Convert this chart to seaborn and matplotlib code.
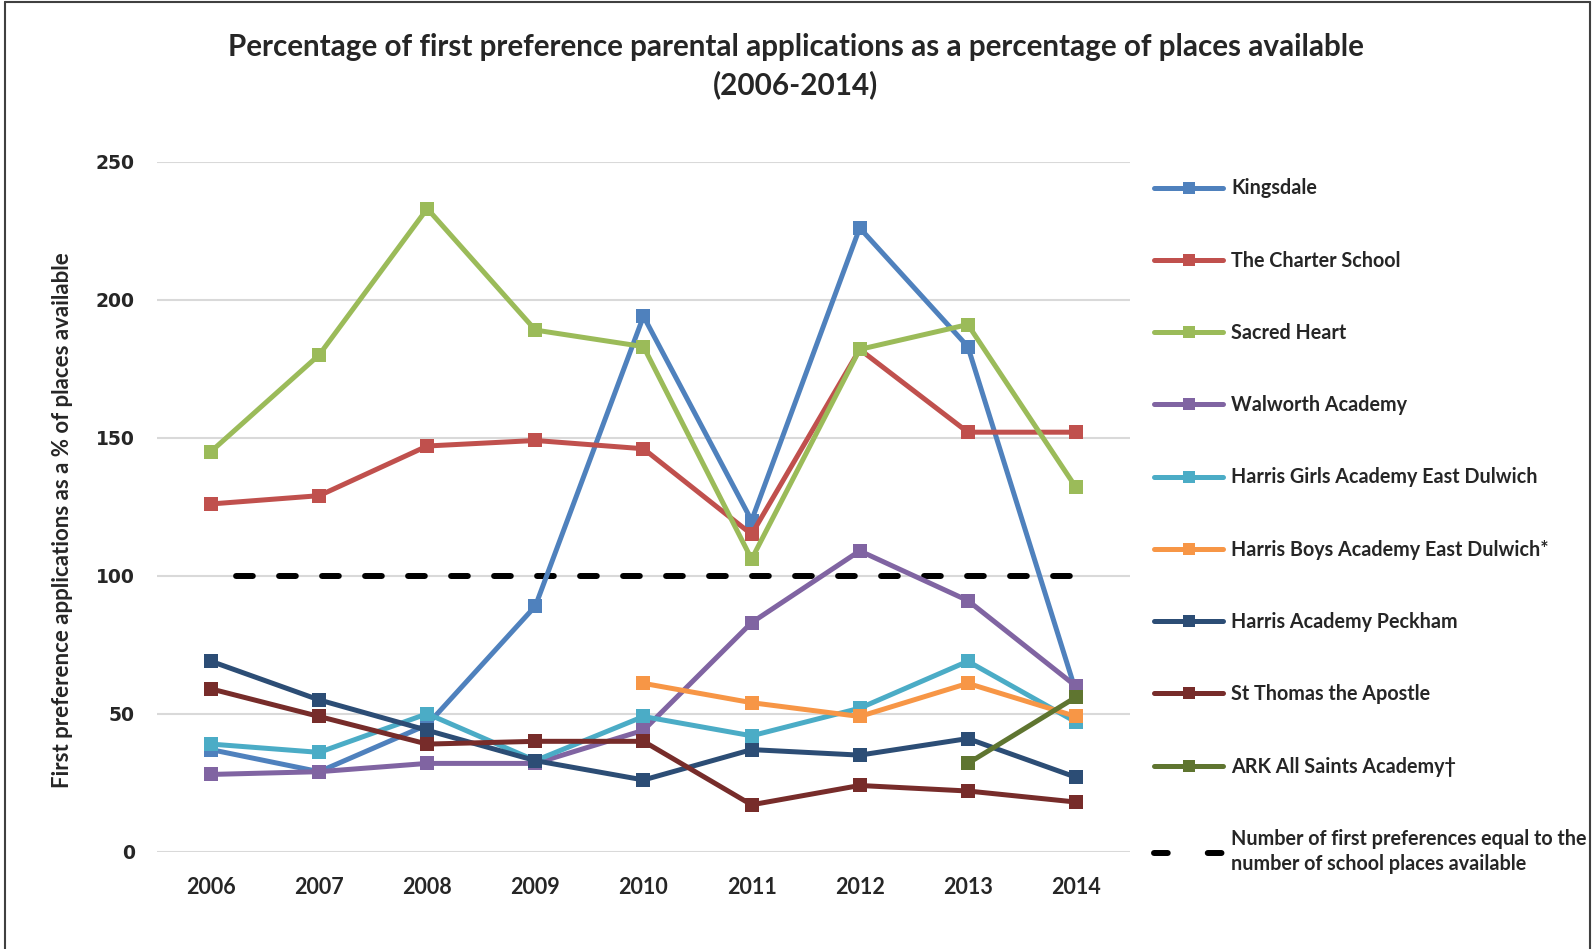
import pandas as pd
import seaborn as sns
import matplotlib.pyplot as plt
from matplotlib.lines import Line2D

years = [2006, 2007, 2008, 2009, 2010, 2011, 2012, 2013, 2014]

kingsdale = [37, 29, 46, 89, 194, 120, 226, 183, 58]
charter = [126, 129, 147, 149, 146, 115, 182, 152, 152]
sacred_heart = [145, 180, 233, 189, 183, 106, 182, 191, 132]
walworth = [28, 29, 32, 32, 44, 83, 109, 91, 60]
harris_girls = [39, 36, 50, 33, 49, 42, 52, 69, 47]
harris_boys = [None, None, None, None, 61, 54, 49, 61, 49]
peckham = [69, 55, 44, 33, 26, 37, 35, 41, 27]
st_thomas = [59, 49, 39, 40, 40, 17, 24, 22, 18]
ark = [None, None, None, None, None, None, None, 32, 56]
equal_line = [100] * 9

schools = {
    "Kingsdale": kingsdale,
    "The Charter School": charter,
    "Sacred Heart": sacred_heart,
    "Walworth Academy": walworth,
    "Harris Girls Academy East Dulwich": harris_girls,
    "Harris Boys Academy East Dulwich*": harris_boys,
    "Harris Academy Peckham": peckham,
    "St Thomas the Apostle": st_thomas,
    "ARK All Saints Academy\u2020": ark,
}
colors = ["#4F81BD", "#C0504D", "#9BBB59", "#8064A2", "#4BACC6",
          "#F79646", "#2C4D75", "#772C2A", "#5F7530"]

rows = []
for name, vals in schools.items():
    for y, v in zip(years, vals):
        if v is not None:
            rows.append({"year": y, "school": name, "value": v})
df = pd.DataFrame(rows)

sns.set_style("white")
plt.rcParams["font.family"] = ["Lato", "DejaVu Sans"]
plt.rcParams["font.weight"] = "bold"

fig = plt.figure(figsize=(15.92, 9.49), dpi=100)
ax = fig.add_axes([0.0986, 0.1025, 0.6112, 0.7271])

# reference line first so the series sit on top
ax.plot(years, equal_line, color="black", lw=4.3, ls=(3.0, (2.8, 4.4)),
        dash_capstyle="round", zorder=1)

sns.lineplot(data=df, x="year", y="value", hue="school",
             hue_order=list(schools.keys()), palette=colors,
             marker="s", markersize=10, markeredgewidth=0, lw=3.6,
             legend=False, ax=ax, zorder=3)

ax.set_xlim(2005.5, 2014.5)
ax.set_ylim(0, 250)
ax.set_yticks([0, 50, 100, 150, 200, 250])
ax.set_xticks(years)
ax.set_xticklabels([str(y) for y in years], fontsize=15.5, fontweight="bold")
ax.set_yticklabels(["0", "50", "100", "150", "200", "250"], fontsize=13.5,
                   fontweight="bold", family="DejaVu Sans")
ax.tick_params(axis="both", length=0)
ax.tick_params(axis="y", pad=16)
ax.tick_params(axis="x", pad=18)
ax.grid(axis="y", color="#D9D9D9", lw=1.5)
ax.set_axisbelow(True)
for s in ax.spines.values():
    s.set_visible(False)
ax.set_xlabel("")
ax.set_ylabel("First preference applications as a % of places available",
              fontsize=16, fontweight="bold")
ax.yaxis.set_label_coords(-0.086, 0.481)

fig.text(0.5, 0.9306,
         "Percentage of first preference parental applications as a percentage of places available\n(2006-2014)",
         ha="center", va="center", fontsize=21.3, fontweight="bold", linespacing=1.38)

# legend
handles = []
labels = []
for name, c in zip(schools.keys(), colors):
    handles.append(Line2D([], [], color=c, lw=3.6, marker="s", markersize=8.5,
                          markeredgewidth=0))
    labels.append(name)
handles.append(Line2D([], [], color="black", lw=4.3, ls=(0, (2.3, 6.7)),
                      dash_capstyle="round"))
labels.append("Number of first preferences equal to the\nnumber of school places available")
leg = fig.legend(handles, labels, loc="upper left", bbox_to_anchor=(0.725, 0.812),
                 frameon=False, labelspacing=2.65, handlelength=3.5,
                 handletextpad=0.4, borderpad=0, borderaxespad=0,
                 prop={"weight": "bold", "size": 14.2})
leg.get_texts()[-1].set_linespacing(1.35)

# outer frame
for xs, ys in [([0.003, 0.003], [0, 0.998]), ([0.003, 0.999], [0.998, 0.998]),
               ([0.999, 0.999], [0, 0.998])]:
    fig.add_artist(Line2D(xs, ys, color="#404040", lw=1.5,
                          transform=fig.transFigure))

fig.savefig("out.png", dpi=100)
